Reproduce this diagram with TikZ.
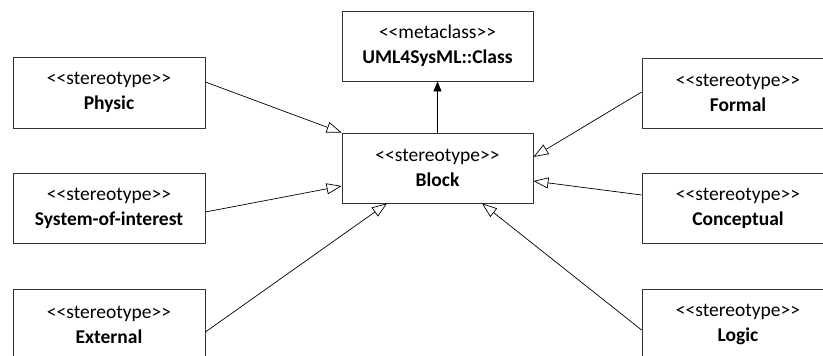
\documentclass[tikz,border=0pt]{standalone}
\usepackage{fontspec}
\setmainfont{Carlito}
\usetikzlibrary{arrows.meta,calc}
\newcommand\mylt{<\kern0pt<}
\newcommand\mygt{>\kern0pt>}
\begin{document}
\begin{tikzpicture}[x=1pt,y=-1pt,
  cls/.style={draw=black!80,line width=0.8pt,minimum width=191pt,minimum height=70pt,
    inner sep=0pt,align=center,font=\fontsize{19.5}{25}\selectfont},
  gen/.style={draw=black,line width=0.7pt,-{Triangle[open,length=15pt,width=11pt,fill=white]}},
  assoc/.style={draw=black,line width=0.7pt,-{Triangle[length=10pt,width=8pt]}}]
\useasboundingbox (0,0) rectangle (823,356);
\clip (0,0) rectangle (823,356);
\node[cls] (meta) at (437.5,46) {\mylt metaclass\mygt\\\textbf{UML4SysML::Class}};
\node[cls] (block) at (437.5,168) {\mylt stereotype\mygt\\\textbf{Block}};
\node[cls,minimum width=192pt,minimum height=71pt] (physic) at (109,92.5) {\mylt stereotype\mygt\\\textbf{Physic}};
\node[cls,minimum width=192pt] (system) at (109,208) {\mylt stereotype\mygt\\\textbf{System-of-interest}};
\node[cls,minimum width=192pt,minimum height=71pt] (external) at (109,324.5) {\mylt stereotype\mygt\\\textbf{External}};
\node[cls,minimum width=192pt] (formal) at (738,93) {\mylt stereotype\mygt\\\textbf{Formal}};
\node[cls,minimum width=192pt] (conceptual) at (738,208) {\mylt stereotype\mygt\\\textbf{Conceptual}};
\node[cls,minimum width=192pt,minimum height=71pt] (logic) at (738,324.5) {\mylt stereotype\mygt\\\textbf{Logic}};
\draw[assoc] (block.north) -- (meta.south);
\draw[gen] ($(physic.east)+(0,-10.5)$) -- (block.north west);
\draw[gen] ($(system.east)+(0,4)$) -- ($(block.west)+(0,18)$);
\draw[gen] ($(external.east)+(0,7.5)$) -- ($(block.south)+(-50.5,0)$);
\draw[gen] ($(formal.west)+(0,-1)$) -- ($(block.east)+(0,-11)$);
\draw[gen] ($(conceptual.west)+(0,-13)$) -- ($(block.east)+(0,13)$);
\draw[gen] ($(logic.west)+(0,5.5)$) -- ($(block.south)+(44.5,0)$);
\end{tikzpicture}
\end{document}
